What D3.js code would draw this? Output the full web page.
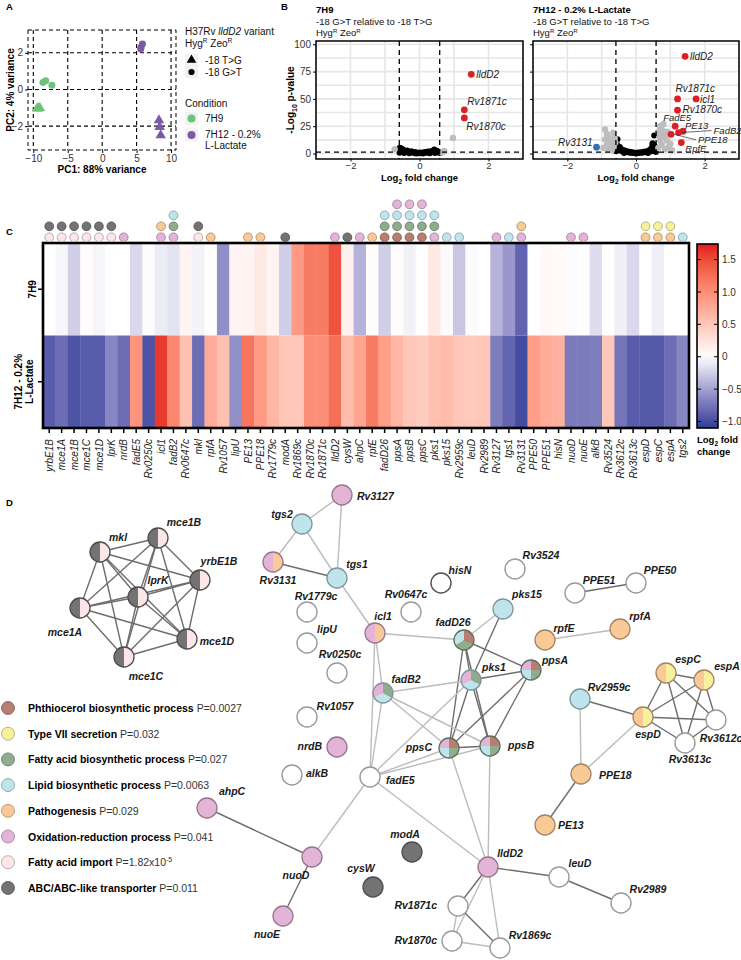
<!DOCTYPE html>
<html>
<head>
<meta charset="utf-8">
<script src="https://cdn.jsdelivr.net/npm/d3@7"></script>
<style>
  body { margin: 0; background: #fff; }
  svg text { font-family: "Liberation Sans", Arial, sans-serif; }
</style>
</head>
<body>
<script>
// ---------------- data ----------------
// A: PCA
var pcaPC1 = [-8.6, -8.2, -7.3, -9.45, -9.25, -9.05, 5.65, 5.85, 5.6, 8.25, 8.35, 8.5];
var pcaPC2 = [0.38, 0.47, 0.23, -1.03, -1.03, -1.01, 2.3, 2.48, 2.2, -1.68, -2.04, -2.5];
var pcaCondition = ["7H9","7H9","7H9","7H9","7H9","7H9","7H12","7H12","7H12","7H12","7H12","7H12"];
var pcaVariant = ["G>T","G>T","G>T","T>G","T>G","T>G","G>T","G>T","G>T","T>G","T>G","T>G"];
var pcaXTicks = [-10, -5, 0, 5, 10];
var pcaYTicks = [-2, 0, 2];

// B: volcano plots  [log2FC, -log10 p]
var volcXTicks = [-2, 0, 2];
var volcYTicks = [0, 25, 50, 75, 100];
var lfcCut = 0.585, pCut = 1.3;
var v7H9Black = [[-0.57,5.2],[-0.55,3.2],[-0.52,4.5],[-0.5,1.8],[-0.47,3.5],[-0.44,2.4],[-0.4,1.2],[-0.36,2.8],[-0.32,1.6],[-0.28,0.8],[-0.24,2.1],[-0.2,1.1],[-0.16,0.5],[-0.12,1.4],[-0.08,0.6],[-0.04,0.2],[0,0.9],[0.04,0.3],[0.08,1.0],[0.12,0.5],[0.16,1.3],[0.2,0.7],[0.24,1.8],[0.28,0.9],[0.32,2.2],[0.36,1.2],[0.4,2.8],[0.43,3.8],[0.46,1.6],[0.5,2.6],[0.53,1.9],[0.56,1.2],[-0.58,0.8],[0.58,0.6],[-0.3,0.3],[0.3,0.2],[-0.1,0.1],[0.1,0.1],[-0.45,0.6],[0.45,0.5]];
var v7H9Grey = [[0.97,14.3],[0.72,2.4],[-0.72,4.0],[0.66,1.0]];
var v7H9Up = [["lldD2",1.5,72.5],["Rv1871c",1.3,40],["Rv1870c",1.3,32.6]];
var v7H12Black = [[-0.58,11.5],[-0.56,9],[-0.54,13],[-0.52,5],[-0.5,3.5],[-0.47,6],[-0.45,2.5],[-0.42,4],[-0.38,2],[-0.34,3],[-0.3,1.5],[-0.26,2.2],[-0.22,1],[-0.18,1.6],[-0.14,0.6],[-0.1,1.1],[-0.06,0.4],[-0.02,0.8],[0.02,0.3],[0.06,0.9],[0.1,0.5],[0.14,1.2],[0.18,0.7],[0.22,1.6],[0.26,1.1],[0.3,2],[0.34,1.4],[0.38,2.8],[0.42,4],[0.45,2.2],[0.47,6.5],[0.48,9.5],[0.5,4.5],[0.52,8],[0.53,16.5],[0.55,3],[0.57,6],[0.58,1.5],[-0.58,2],[0.0,0.1],[-0.35,0.4],[0.35,0.4]];
var v7H12Grey = [[-0.9,22],[-0.85,18],[-0.8,15],[-0.9,13],[-0.75,12],[-0.7,9],[-0.85,8],[-0.65,6],[-0.95,5],[-0.8,4],[-0.7,3],[-0.62,14],[-0.6,10],[-0.66,19],
                 [0.65,20],[0.7,25],[0.75,22],[0.8,18],[0.85,15],[0.9,12],[0.7,12],[0.75,8],[0.95,6],[0.85,4],[1.0,9],[0.65,5],[0.8,27],[1.05,3],[0.9,20],[0.68,16]];
var v7H12Up = [["lldD2",1.43,89],["Rv1871c",1.21,50],["icl1",1.75,50],["Rv1870c",1.21,39.6],["FadE5",1.14,25],["PE13",1.37,20.4],["FadB2",1.24,19.2],["PPE18",1.02,17.6],["RpfE",1.32,10]];
var v7H12Down = [["Rv3131",-1.15,5.8]];

// C: heatmap
var heatGenes = ["yrbE1B","mce1A","mce1B","mce1C","mce1D","lprK","nrdB","fadE5","Rv0250c","icl1","fadB2","Rv0647c","mkl","rpfA","Rv1057","lipU","PE13","PPE18","Rv1779c","modA","Rv1869c","Rv1870c","Rv1871c","lldD2","cysW","ahpC","rpfE","fadD26","ppsA","ppsB","ppsC","pks1","pks15","Rv2959c","leuD","Rv2989","Rv3127","tgs1","Rv3131","PPE50","PPE51","hisN","nuoD","nuoE","alkB","Rv3524","Rv3612c","Rv3613c","espD","espC","espA","tgs2"];
var heatConditions = ["7H9", "7H12"];
var lfc7H9 = [0.0,-0.05,-0.25,0.02,-0.05,0.0,0.0,-0.2,-0.02,-0.1,-0.15,0.1,-0.06,0.02,-0.6,0.1,0.1,0.2,0.1,-0.25,0.9,1.15,1.15,1.45,0.12,-0.4,0.02,
              -0.25,0.02,-0.07,0.0,0.2,-0.02,-0.3,-0.02,0.0,-0.4,-0.55,-0.85,0.0,0.06,0.05,-0.02,0.01,-0.18,0.0,-0.08,-0.2,0.0,-0.08,0.0,0.0];
var lfc7H12 = [-0.9,-0.8,-0.95,-0.9,-0.9,-0.65,-0.8,0.95,-0.95,1.6,1.05,0.55,-0.8,0.75,0.55,-0.6,1.2,0.9,0.65,0.5,0.5,1.0,1.0,1.25,0.6,0.8,1.15,
               0.85,0.65,0.5,0.45,0.55,0.6,0.5,0.48,0.5,-0.7,-0.85,-1.0,0.85,0.75,0.7,-0.72,-0.72,-0.7,0.5,-0.75,-0.9,-0.92,-0.92,-0.8,-0.65];
var colorTicks = [-1.0, -0.5, 0, 0.5, 1.0, 1.5];

// GO categories
var catKeys   = ["phth","t7","fab","lip","path","ox","fai","abc"];
var catNames  = ["Phthiocerol biosynthetic process","Type VII secretion","Fatty acid biosynthetic process","Lipid biosynthetic process","Pathogenesis","Oxidation-reduction process","Fatty acid import","ABC/ABC-like transporter"];
var catPvals  = ["P=0.0027","P=0.032","P=0.027","P=0.0063","P=0.029","P=0.041","P=1.82x10","P=0.011"];
var catColors = ["#b97d72","#f7f09d","#8fad8c","#bfe4ec","#f9c996","#e4b4d8","#fce6e8","#737373"];
// categories per heatmap gene (bottom to top)
var geneCats = {
  yrbE1B:["fai","abc"], mce1A:["fai","abc"], mce1B:["fai","abc"], mce1C:["fai","abc"], mce1D:["fai","abc"], lprK:["fai","abc"],
  nrdB:["ox"], icl1:["ox","path"], fadB2:["ox","fab","lip"], mkl:["fai","abc"], rpfA:["path"], PE13:["path"], PPE18:["path"],
  modA:["abc"], lldD2:["ox"], cysW:["abc"], ahpC:["ox"], rpfE:["path"], fadD26:["phth","fab","lip"],
  ppsA:["phth","fab","lip","ox"], ppsB:["phth","fab","lip","ox"], ppsC:["phth","fab","lip","ox"], pks1:["ox","fab","lip"],
  pks15:["lip"], Rv2959c:["lip"], Rv3127:["ox"], tgs1:["lip"], Rv3131:["ox","path"], nuoD:["ox"], nuoE:["ox"],
  espD:["path","t7"], espC:["path","t7"], espA:["path","t7"], tgs2:["lip"]
};

// D: network (pie segments clockwise from 12 o'clock)
var nodeCats = {
  mkl:["fai","abc"], mce1B:["fai","abc"], yrbE1B:["fai","abc"], lprK:["fai","abc"], mce1A:["fai","abc"], mce1D:["fai","abc"], mce1C:["fai","abc"],
  Rv3127:["ox"], tgs2:["lip"], tgs1:["lip"], Rv3131:["path","ox"], icl1:["path","ox"], fadD26:["phth","fab","lip"],
  pks1:["fab","lip","ox"], fadB2:["fab","lip","ox"], ppsA:["phth","fab","lip","ox"], ppsB:["phth","fab","lip","ox"], ppsC:["phth","fab","lip","ox"],
  pks15:["lip"], Rv2959c:["lip"], rpfE:["path"], rpfA:["path"], PPE18:["path"], PE13:["path"],
  espC:["t7","path"], espA:["t7","path"], espD:["t7","path"],
  nrdB:["ox"], ahpC:["ox"], nuoD:["ox"], nuoE:["ox"], lldD2:["ox"], cysW:["abc"], modA:["abc"]
};
var netEdges = [
  ["Rv3127","tgs2",1],["Rv3127","tgs1",1],["tgs2","Rv3131",1],["tgs2","tgs1",1],["Rv3131","tgs1",2],["tgs1","icl1",1],
  ["icl1","fadD26",1],["icl1","fadB2",1],["icl1","fadE5",1],["fadD26","pks15",1],["fadD26","pks1",2],["fadD26","ppsA",2],
  ["fadD26","ppsC",2],["fadD26","ppsB",2],["pks15","pks1",2],["pks1","ppsA",2],["pks1","ppsC",2],["pks1","ppsB",2],
  ["pks1","fadB2",1],["ppsA","ppsC",2],["ppsA","ppsB",2],["ppsC","ppsB",2],["fadB2","ppsC",1],["fadB2","ppsB",1],
  ["fadB2","fadE5",1],["fadE5","ppsC",1],["fadE5","ppsB",1],["fadE5","pks1",1],["fadE5","nuoD",1],["fadE5","lldD2",1],
  ["ppsC","lldD2",1],["ppsB","lldD2",1],["lldD2","leuD",2],["leuD","Rv2989",2],["lldD2","Rv1871c",2],["lldD2","Rv1870c",1],
  ["lldD2","Rv1869c",1],["Rv1871c","Rv1870c",1],["Rv1871c","Rv1869c",2],["Rv1870c","Rv1869c",1],["ahpC","nuoD",2],
  ["nuoD","nuoE",2],["rpfE","rpfA",1],["PPE51","PPE50",2],["Rv2959c","espD",2],["Rv2959c","PPE18",1],["espD","PPE18",1],
  ["PPE18","PE13",2]
];
var mceCluster = ["mkl","mce1B","yrbE1B","lprK","mce1A","mce1D","mce1C"];
var espCluster = ["espD","espC","espA","Rv3612c","Rv3613c"];

// layout of the network drawing: [name, x, y, label dx, label dy, anchor]
var nodeLayout = [
  ["mkl",100,552,18,-11,"middle"],["mce1B",158,538,26,-12,"middle"],["yrbE1B",200,580,19,-15,"middle"],["lprK",138,597,20,-13,"middle"],
  ["mce1A",80,608,-15,28,"middle"],["mce1D",187,639,30,6,"middle"],["mce1C",124,657,22,23,"middle"],
  ["Rv3127",342,495,15,5,"start"],["tgs2",302,524,-20,-6,"middle"],["Rv3131",273,562,5,22,"middle"],["tgs1",337,578,20,-10,"middle"],
  ["hisN",441,583,19,-9,"middle"],["Rv3524",515,569,26,-10,"middle"],["Rv1779c",307,612,9,-12,"middle"],["Rv0647c",411,612,-5,-14,"middle"],
  ["pks15",503,609,24,-11,"middle"],["PPE51",575,593,24,-9,"middle"],["PPE50",636,583,24,-9,"middle"],["icl1",375,633,8,-13,"middle"],
  ["lipU",307,643,20,-10,"middle"],["fadD26",464,640,-11,-14,"middle"],["rpfE",545,640,19,-8,"middle"],["rpfA",620,629,20,-9,"middle"],
  ["Rv0250c",337,673,3,-15,"middle"],["pks1",471,680,23,-9,"middle"],["ppsA",531,670,24,-6,"middle"],["espC",666,673,22,-10,"middle"],
  ["espA",704,680,23,-10,"middle"],["fadB2",383,693,23,-10,"middle"],["Rv2959c",580,699,29,-8,"middle"],["Rv1057",307,717,28,-7,"middle"],
  ["espD",643,717,5,21,"middle"],["Rv3612c",716,720,5,22,"middle"],["nrdB",337,747,-15,3,"end"],["ppsC",449,748,-17,3,"end"],
  ["ppsB",490,746,18,3,"start"],["Rv3613c",685,743,5,20,"middle"],["alkB",292,775,14,2,"start"],["fadE5",370,777,16,7,"start"],
  ["PPE18",581,774,18,5,"start"],["ahpC",207,808,25,-13,"middle"],["nuoD",312,857,-16,22,"middle"],["nuoE",283,916,-16,22,"middle"],
  ["cysW",373,887,-12,-15,"middle"],["modA",412,852,-7,-14,"middle"],["PE13",545,825,13,4,"start"],["lldD2",488,867,22,-10,"middle"],
  ["leuD",559,877,21,-10,"middle"],["Rv2989",621,903,27,-10,"middle"],["Rv1871c",458,906,-21,3,"end"],["Rv1870c",452,941,-15,3,"end"],
  ["Rv1869c",500,948,30,-9,"middle"]
];

// ---------------- drawing ----------------
var svg = d3.select("body").append("svg").attr("width", 741).attr("height", 960);
var catColor = d3.scaleOrdinal().domain(catKeys).range(catColors);
var minus = function(d) { return d < 0 ? "\u2212" + Math.abs(d) : String(d); };

function panelLabel(t, x, y) {
  svg.append("text").attr("x", x).attr("y", y).attr("font-size", 9.5).attr("font-weight", "bold").text(t);
}
panelLabel("A", 6, 10); panelLabel("B", 281, 10); panelLabel("C", 6, 235); panelLabel("D", 6, 506);

function styleAxis(g) {
  g.select(".domain").remove();
  g.selectAll(".tick line").attr("stroke", "#000");
  g.selectAll(".tick text").attr("font-size", 10).attr("fill", "#333");
}

// ===== A =====
var gA = svg.append("g");
var ax = d3.scaleLinear().domain([-10.77, 10.72]).range([28, 176]);
var ay = d3.scaleLinear().domain([-3.3, 3.24]).range([150, 30]);
gA.selectAll(".vg").data(pcaXTicks).enter().append("line")
  .attr("x1", d => ax(d)).attr("x2", d => ax(d)).attr("y1", 30).attr("y2", 150);
gA.selectAll(".hg").data(pcaYTicks).enter().append("line")
  .attr("x1", 28).attr("x2", 176).attr("y1", d => ay(d)).attr("y2", d => ay(d));
gA.selectAll("line").attr("stroke", "#000").attr("stroke-width", 1.1).attr("stroke-dasharray", "4,3");
gA.append("rect").attr("x", 28).attr("y", 30).attr("width", 148).attr("height", 120)
  .attr("fill", "none").attr("stroke", "#000").attr("stroke-width", 1).attr("stroke-dasharray", "4,3");
gA.append("g").attr("transform", "translate(0,150)")
  .call(d3.axisBottom(ax).tickValues(pcaXTicks).tickSize(3).tickPadding(2).tickFormat(minus)).call(styleAxis);
gA.append("g").attr("transform", "translate(28,0)")
  .call(d3.axisLeft(ay).tickValues(pcaYTicks).tickSize(3).tickPadding(2).tickFormat(minus)).call(styleAxis);
gA.append("text").attr("x", 102).attr("y", 173).attr("text-anchor", "middle")
  .attr("font-size", 10).attr("font-weight", "bold").text("PC1: 88% variance");
gA.append("text").attr("transform", "translate(14,90) rotate(-90)").attr("text-anchor", "middle")
  .attr("font-size", 10).attr("font-weight", "bold").text("PC2: 4% variance");

var condColor = d3.scaleOrdinal().domain(["7H9", "7H12"]).range(["#6cc47b", "#7b5ca4"]);
var pcaIdx = d3.range(pcaPC1.length);
gA.selectAll(".pt").data(pcaIdx).enter().append("path")
  .attr("transform", i => "translate(" + ax(pcaPC1[i]) + "," + ay(pcaPC2[i]) + ")")
  .attr("d", i => d3.symbol().type(pcaVariant[i] === "T>G" ? d3.symbolTriangle : d3.symbolCircle).size(pcaVariant[i] === "T>G" ? 48 : 38)())
  .attr("fill", i => condColor(pcaCondition[i]));

// legend A
var lgA = gA.append("g").attr("font-size", 10).attr("fill", "#111");
lgA.append("text").attr("x", 185).attr("y", 35).html('H37Rv <tspan font-style="italic">lldD2</tspan> variant');
lgA.append("text").attr("x", 185).attr("y", 47).html('Hyg<tspan font-size="6.5" dy="-4">R</tspan><tspan dy="4"> Zeo</tspan><tspan font-size="6.5" dy="-4">R</tspan>');
[["T>G", 60, "-18 T>G"], ["G>T", 72, "-18 G>T"]].forEach(function(r) {
  lgA.append("rect").attr("x", 185).attr("y", r[1] - 6).attr("width", 13).attr("height", 12).attr("fill", "#f2f2f2");
  lgA.append("path").attr("transform", "translate(191.5," + r[1] + ")")
    .attr("d", d3.symbol().type(r[0] === "T>G" ? d3.symbolTriangle : d3.symbolCircle).size(r[0] === "T>G" ? 40 : 30)()).attr("fill", "#000");
  lgA.append("text").attr("x", 205).attr("y", r[1] + 3.5).text(r[2]);
});
lgA.append("text").attr("x", 185).attr("y", 107).text("Condition");
[["7H9", 118.5], ["7H12", 135]].forEach(function(r) {
  lgA.append("rect").attr("x", 185).attr("y", r[1] - 6.5).attr("width", 13).attr("height", 13).attr("fill", "#f2f2f2");
  lgA.append("circle").attr("cx", 191.5).attr("cy", r[1]).attr("r", 4).attr("fill", condColor(r[0]));
});
lgA.append("text").attr("x", 205).attr("y", 122).text("7H9");
lgA.append("text").attr("x", 205).attr("y", 138).text("7H12 - 0.2%");
lgA.append("text").attr("x", 205).attr("y", 149).text("L-Lactate");

// ===== B =====
var vy = d3.scaleLinear().domain([-5, 103]).range([159, 41]);
function volcano(x0, x1, title, black, grey, up, down, showY) {
  var g = svg.append("g");
  var vx = d3.scaleLinear().domain([-3, 3]).range([x0, x1]);
  g.append("rect").attr("x", x0).attr("y", 41).attr("width", x1 - x0).attr("height", 118).attr("fill", "#fff");
  g.selectAll(".gx").data(d3.range(-3, 3.01, 1)).enter().append("line")
    .attr("x1", d => vx(d)).attr("x2", d => vx(d)).attr("y1", 41).attr("y2", 159)
    .attr("stroke", "#e6e6e6").attr("stroke-width", 1.6);
  g.selectAll(".gy").data(d3.range(0, 101, 12.5)).enter().append("line")
    .attr("x1", x0).attr("x2", x1).attr("y1", d => vy(d)).attr("y2", d => vy(d))
    .attr("stroke", "#e6e6e6").attr("stroke-width", 1.6);
  g.selectAll(".bk").data(black).enter().append("circle")
    .attr("cx", d => vx(d[0])).attr("cy", d => vy(d[1])).attr("r", 3).attr("fill", "#000");
  g.selectAll(".gr").data(grey).enter().append("circle")
    .attr("cx", d => vx(d[0])).attr("cy", d => vy(d[1])).attr("r", 3.2).attr("fill", "#bdbdbd");
  g.selectAll(".up").data(up).enter().append("circle")
    .attr("cx", d => vx(d[1])).attr("cy", d => vy(d[2])).attr("r", 3.4).attr("fill", "#dc1f26");
  g.selectAll(".dn").data(down).enter().append("circle")
    .attr("cx", d => vx(d[1])).attr("cy", d => vy(d[2])).attr("r", 3.4).attr("fill", "#3b6db5");
  [-lfcCut, lfcCut].forEach(function(c) {
    g.append("line").attr("x1", vx(c)).attr("x2", vx(c)).attr("y1", 41).attr("y2", 159)
      .attr("stroke", "#000").attr("stroke-width", 1.3).attr("stroke-dasharray", "5,4");
  });
  g.append("line").attr("x1", x0).attr("x2", x1).attr("y1", vy(pCut)).attr("y2", vy(pCut))
    .attr("stroke", "#000").attr("stroke-width", 1.3).attr("stroke-dasharray", "5,4");
  g.append("rect").attr("x", x0).attr("y", 41).attr("width", x1 - x0).attr("height", 118)
    .attr("fill", "none").attr("stroke", "#000").attr("stroke-width", 1.5);
  g.append("g").attr("transform", "translate(0,159)")
    .call(d3.axisBottom(vx).tickValues(volcXTicks).tickSize(2.5).tickPadding(0.5).tickFormat(minus)).call(styleAxis)
    .selectAll(".tick text").attr("font-size", 9.5);
  var yAx = d3.axisLeft(vy).tickValues(volcYTicks).tickSize(3).tickPadding(2);
  if (!showY) yAx.tickFormat("");
  g.append("g").attr("transform", "translate(" + x0 + ",0)").call(yAx).call(styleAxis);
  g.append("text").attr("x", (x0 + x1) / 2).attr("y", 181).attr("text-anchor", "middle").attr("font-size", 9.5)
    .attr("font-weight", "bold").html('Log<tspan font-size="6.5" dy="3">2</tspan><tspan dy="-3"> fold change</tspan>');
  g.append("text").attr("x", x0).attr("y", 13).attr("font-size", 9.5).attr("font-weight", "bold").text(title);
  g.append("text").attr("x", x0).attr("y", 24.5).attr("font-size", 9.5).attr("fill", "#111").text("-18 G>T relative to -18 T>G");
  g.append("text").attr("x", x0).attr("y", 36).attr("font-size", 9.5).attr("fill", "#111")
    .html('Hyg<tspan font-size="6" dy="-3.5">R</tspan><tspan dy="3.5"> Zeo</tspan><tspan font-size="6" dy="-3.5">R</tspan>');
  return vx;
}
var vxL = volcano(316, 523, "7H9", v7H9Black, v7H9Grey, v7H9Up, [], true);
var vxR = volcano(533, 739, "7H12 - 0.2% L-Lactate", v7H12Black, v7H12Grey, v7H12Up, v7H12Down, false);
svg.append("text").attr("transform", "translate(294,100) rotate(-90)").attr("text-anchor", "middle")
  .attr("font-size", 10).attr("font-weight", "bold")
  .html('-Log<tspan font-size="7" dy="3">10</tspan><tspan dy="-3"> p-value</tspan>');

function vLabel(vx, arr, gene, dx, dy, anchor, leader, fs) {
  var d = arr.filter(a => a[0] === gene)[0];
  var px = vx(d[1]), py = vy(d[2]);
  if (leader) {
    svg.append("line").attr("x1", px + 3).attr("y1", py).attr("x2", px + dx - 2).attr("y2", py + dy - 3)
      .attr("stroke", "#333").attr("stroke-width", 0.7);
  }
  svg.append("text").attr("x", px + dx).attr("y", py + dy).attr("text-anchor", anchor)
    .attr("font-size", fs || 10).attr("font-style", "italic").attr("fill", "#222").text(gene);
}
vLabel(vxL, v7H9Up, "lldD2", 5, 4, "start");
vLabel(vxL, v7H9Up, "Rv1871c", 3, -5, "start");
vLabel(vxL, v7H9Up, "Rv1870c", 2, 12, "start");
vLabel(vxR, v7H12Up, "lldD2", 5, 4, "start");
vLabel(vxR, v7H12Up, "Rv1871c", -2, -7, "start");
vLabel(vxR, v7H12Up, "icl1", 4, 4, "start");
vLabel(vxR, v7H12Up, "Rv1870c", 5, 3, "start");
vLabel(vxR, v7H12Up, "FadE5", -12, -5, "start", false, 9.5);
vLabel(vxR, v7H12Up, "PE13", 2, -2, "start", false, 9.5);
vLabel(vxR, v7H12Up, "FadB2", 35, 1, "start", true, 9.5);
vLabel(vxR, v7H12Up, "PPE18", 27, 8.5, "start", true, 9.5);
vLabel(vxR, v7H12Up, "RpfE", 4, 9.5, "start", false, 9.5);
vLabel(vxR, v7H12Down, "Rv3131", -4, -1, "end");

// ===== C =====
var gC = svg.append("g");
var hx = d3.scaleBand().domain(heatGenes).range([43, 689]);
var hy = d3.scaleBand().domain(heatConditions).range([243, 428]);
var heatColor = d3.scaleLinear().domain([-1.1, 0, 1.74]).range(["#2c3d97", "#ffffff", "#e3191c"]).interpolate(d3.interpolateLab);
var cells = [];
heatGenes.forEach(function(g, i) {
  cells.push({gene: g, cond: "7H9", v: lfc7H9[i]});
  cells.push({gene: g, cond: "7H12", v: lfc7H12[i]});
});
gC.selectAll(".cell").data(cells).enter().append("rect")
  .attr("x", d => hx(d.gene)).attr("y", d => hy(d.cond))
  .attr("width", hx.bandwidth() + 0.4).attr("height", hy.bandwidth())
  .attr("fill", d => heatColor(d.v));
gC.append("rect").attr("x", 43).attr("y", 243).attr("width", 646).attr("height", 185)
  .attr("fill", "none").attr("stroke", "#000").attr("stroke-width", 2.6);
gC.append("g").attr("transform", "translate(0,429)")
  .call(d3.axisBottom(hx).tickSize(4).tickFormat("")).call(styleAxis);
gC.selectAll(".gl").data(heatGenes).enter().append("text")
  .attr("transform", d => "translate(" + (hx(d) + hx.bandwidth() / 2 + 3.6) + ",439) rotate(-90)")
  .attr("text-anchor", "end").attr("font-size", 10).attr("font-style", "italic").attr("fill", "#222").text(d => d);
gC.append("g").attr("transform", "translate(43,0)")
  .call(d3.axisLeft(hy).tickSize(5).tickFormat("")).call(styleAxis);
gC.selectAll(".tick line").attr("stroke-width", 1.5);
gC.append("text").attr("transform", "translate(35.5," + (hy("7H9") + hy.bandwidth() / 2) + ") rotate(-90)")
  .attr("text-anchor", "middle").attr("font-size", 10).attr("font-weight", "bold").text("7H9");
gC.append("text").attr("transform", "translate(22," + (hy("7H12") + hy.bandwidth() / 2) + ") rotate(-90)")
  .attr("text-anchor", "middle").attr("font-size", 10).attr("font-weight", "bold").text("7H12 - 0.2%");
gC.append("text").attr("transform", "translate(32.5," + (hy("7H12") + hy.bandwidth() / 2) + ") rotate(-90)")
  .attr("text-anchor", "middle").attr("font-size", 10).attr("font-weight", "bold").text("L-Lactate");

// category dots above the heatmap
var dots = [];
heatGenes.forEach(function(g) {
  (geneCats[g] || []).forEach(function(c, k) { dots.push({gene: g, cat: c, k: k}); });
});
gC.selectAll(".dot").data(dots).enter().append("circle")
  .attr("cx", d => hx(d.gene) + hx.bandwidth() / 2).attr("cy", d => 237.3 - 11 * d.k).attr("r", 4.4)
  .attr("fill", d => catColor(d.cat)).attr("stroke", d => d3.color(catColor(d.cat)).darker(1.1)).attr("stroke-width", 0.8);

// colour bar
var cbY = d3.scaleLinear().domain([-1.1, 1.74]).range([428, 244]);
var defs = svg.append("defs");
var grad = defs.append("linearGradient").attr("id", "cbar").attr("x1", 0).attr("y1", 1).attr("x2", 0).attr("y2", 0);
d3.range(0, 1.001, 0.05).forEach(function(t) {
  var v = -1.1 + t * 2.84;
  grad.append("stop").attr("offset", t).attr("stop-color", heatColor(v));
});
gC.append("rect").attr("x", 697).attr("y", 244).attr("width", 21).attr("height", 184)
  .attr("fill", "url(#cbar)").attr("stroke", "#000").attr("stroke-width", 1.6);
colorTicks.forEach(function(t) {
  gC.append("line").attr("x1", 697).attr("x2", 701).attr("y1", cbY(t)).attr("y2", cbY(t)).attr("stroke", "#000");
  gC.append("line").attr("x1", 714).attr("x2", 718).attr("y1", cbY(t)).attr("y2", cbY(t)).attr("stroke", "#000");
});
gC.append("g").attr("transform", "translate(718,0)")
  .call(d3.axisRight(cbY).tickValues(colorTicks).tickSize(0).tickPadding(4).tickFormat(d => d === 0 ? "0" : d3.format(".1f")(d)))
  .call(styleAxis);
gC.append("text").attr("x", 697).attr("y", 443).attr("font-size", 9.5).attr("font-weight", "bold")
  .html('Log<tspan font-size="6.5" dy="3">2</tspan><tspan dy="-3"> fold</tspan>');
gC.append("text").attr("x", 697).attr("y", 455).attr("font-size", 9.5).attr("font-weight", "bold").text("change");

// ===== D =====
var gD = svg.append("g");
var pos = {};
nodeLayout.forEach(function(n) { pos[n[0]] = n; });
var allEdges = netEdges.slice();
[mceCluster, espCluster].forEach(function(cl) {
  for (var i = 0; i < cl.length; i++) for (var j = i + 1; j < cl.length; j++) allEdges.push([cl[i], cl[j], 2]);
});
gD.selectAll(".edge").data(allEdges).enter().append("line")
  .attr("x1", d => pos[d[0]][1]).attr("y1", d => pos[d[0]][2])
  .attr("x2", d => pos[d[1]][1]).attr("y2", d => pos[d[1]][2])
  .attr("stroke", d => d[2] === 2 ? "#6e6e6e" : "#bcbcbc").attr("stroke-width", 1.4);

var nodeR = 10;
var pie = d3.pie().sort(null).value(1);
var arc = d3.arc().innerRadius(0).outerRadius(nodeR);
var ng = gD.selectAll(".node").data(nodeLayout).enter().append("g")
  .attr("transform", d => "translate(" + d[1] + "," + d[2] + ")");
ng.each(function(d) {
  var g = d3.select(this);
  var cats = nodeCats[d[0]];
  if (cats) {
    g.selectAll("path").data(pie(cats)).enter().append("path").attr("d", arc).attr("fill", a => catColor(a.data));
    g.append("circle").attr("r", nodeR).attr("fill", "none").attr("stroke-width", 1.3)
      .attr("stroke", d3.color(catColor(cats[cats.length > 1 ? 1 : 0])).darker(1.2));
  } else {
    g.append("circle").attr("r", nodeR).attr("fill", "#fff").attr("stroke-width", 1.4)
      .attr("stroke", d[0] === "hisN" ? "#505050" : "#9a9a9a");
  }
});
gD.selectAll(".nl").data(nodeLayout).enter().append("text")
  .attr("x", d => d[1] + d[3]).attr("y", d => d[2] + d[4]).attr("text-anchor", d => d[5])
  .attr("font-size", 10.5).attr("font-weight", "bold").attr("font-style", "italic").attr("fill", "#1a1a1a")
  .text(d => d[0]);

// legend D
var lgD = gD.append("g");
catKeys.forEach(function(k, i) {
  var y = 708 + i * 25.7;
  lgD.append("circle").attr("cx", 8).attr("cy", y).attr("r", 6.5).attr("fill", catColors[i])
    .attr("stroke", d3.color(catColors[i]).darker(1.1)).attr("stroke-width", 0.8);
  var t = lgD.append("text").attr("x", 28).attr("y", y + 4).attr("font-size", 10.5);
  t.append("tspan").attr("font-weight", "bold").text(catNames[i] + " ");
  t.append("tspan").attr("fill", "#333").text(catPvals[i]);
  if (k === "fai") t.append("tspan").attr("font-size", 7).attr("dy", -4).attr("fill", "#333").text("-5");
});
</script>
</body>
</html>
